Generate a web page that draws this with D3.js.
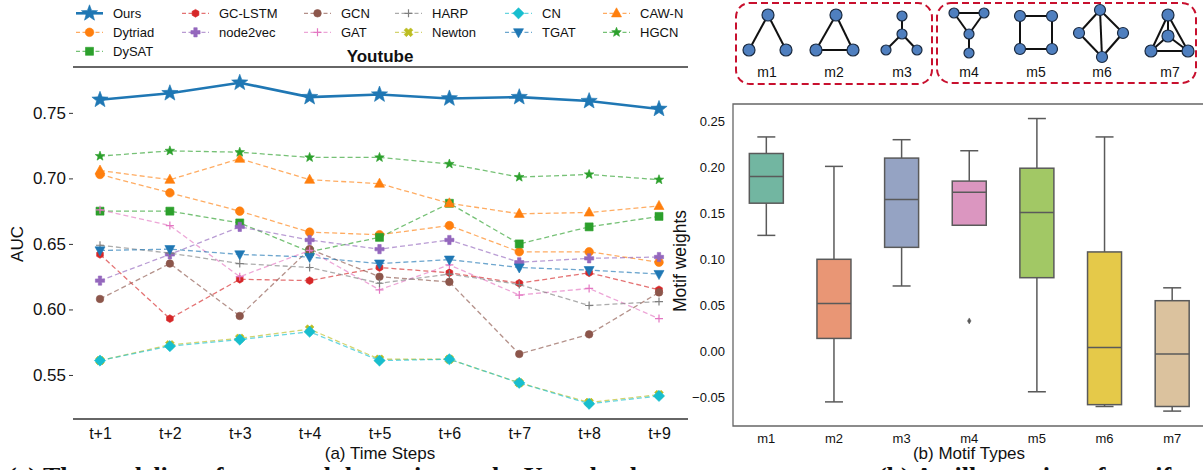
<!DOCTYPE html>
<html>
<head>
<meta charset="utf-8">
<script src="https://cdn.jsdelivr.net/npm/d3@7"></script>
<style>
  body { margin: 0; background: #fff; }
  text { font-family: "Liberation Sans", Arial, sans-serif; fill: #111; }
</style>
</head>
<body>
<svg id="chart" width="1203" height="470"></svg>
<script>
// ---- data: left panel (AUC per time step, Youtube) ----
const steps = ["t+1", "t+2", "t+3", "t+4", "t+5", "t+6", "t+7", "t+8", "t+9"];
const ours    = [0.760, 0.765, 0.773, 0.762, 0.764, 0.761, 0.762, 0.759, 0.753];
const dytriad = [0.703, 0.689, 0.675, 0.659, 0.657, 0.664, 0.644, 0.644, 0.636];
const dysat   = [0.675, 0.675, 0.666, 0.644, 0.655, 0.681, 0.650, 0.663, 0.671];
const gclstm  = [0.642, 0.593, 0.623, 0.622, 0.632, 0.628, 0.620, 0.628, 0.615];
const node2vec= [0.622, 0.642, 0.663, 0.653, 0.646, 0.653, 0.636, 0.639, 0.640];
const gcn     = [0.608, 0.635, 0.595, 0.646, 0.625, 0.621, 0.566, 0.581, 0.613];
const gat     = [0.676, 0.664, 0.625, 0.645, 0.615, 0.634, 0.611, 0.616, 0.593];
const harp    = [0.649, 0.643, 0.635, 0.632, 0.620, 0.627, 0.619, 0.603, 0.606];
const newton  = [0.561, 0.573, 0.578, 0.585, 0.562, 0.562, 0.544, 0.529, 0.535];
const cn      = [0.561, 0.572, 0.577, 0.583, 0.561, 0.562, 0.544, 0.528, 0.534];
const tgat    = [0.645, 0.646, 0.642, 0.640, 0.635, 0.638, 0.632, 0.630, 0.627];
const cawn    = [0.706, 0.699, 0.715, 0.699, 0.696, 0.681, 0.673, 0.674, 0.679];
const hgcn    = [0.717, 0.721, 0.720, 0.716, 0.716, 0.711, 0.701, 0.703, 0.699];
const aucTicks = [0.55, 0.60, 0.65, 0.70, 0.75];

// ---- data: right panel (motif weight distributions) ----
const motifs     = ["m1", "m2", "m3", "m4", "m5", "m6", "m7"];
const whiskerHi  = [0.233, 0.201, 0.230, 0.218, 0.253, 0.233, 0.069];
const q3         = [0.215, 0.100, 0.210, 0.185, 0.199, 0.108, 0.055];
const medians    = [0.190, 0.052, 0.165, 0.173, 0.151, 0.004, -0.003];
const q1         = [0.161, 0.014, 0.113, 0.137, 0.080, -0.058, -0.060];
const whiskerLo  = [0.126, -0.055, 0.071, 0.137, -0.044, -0.060, -0.065];
const outliers   = [[], [], [], [0.033], [], [], []];
const weightTicks = [-0.05, 0.00, 0.05, 0.10, 0.15, 0.20, 0.25];

// ---- series styling ----
const series = [
  {name: "Ours",     values: ours,     color: "#1f77b4", marker: "star",  solid: true},
  {name: "Dytriad",  values: dytriad,  color: "#ff7f0e", marker: "circle"},
  {name: "DySAT",    values: dysat,    color: "#2ca02c", marker: "square"},
  {name: "GC-LSTM",  values: gclstm,   color: "#d62728", marker: "hex"},
  {name: "node2vec", values: node2vec, color: "#9467bd", marker: "plusFilled"},
  {name: "GCN",      values: gcn,      color: "#8c564b", marker: "smallCircle"},
  {name: "GAT",      values: gat,      color: "#e377c2", marker: "plus"},
  {name: "HARP",     values: harp,     color: "#7f7f7f", marker: "plus"},
  {name: "Newton",   values: newton,   color: "#bcbd22", marker: "xFilled"},
  {name: "CN",       values: cn,       color: "#17becf", marker: "diamond"},
  {name: "TGAT",     values: tgat,     color: "#1f77b4", marker: "triDown"},
  {name: "CAW-N",    values: cawn,     color: "#ff7f0e", marker: "triUp"},
  {name: "HGCN",     values: hgcn,     color: "#2ca02c", marker: "smallStar"}
];

const boxPalette = ["#66c2a5", "#fc8d62", "#8da0cb", "#e78ac3", "#a6d854", "#ffd92f", "#e5c494"]
  .map(c => { const h = d3.hsl(c); h.s *= 0.75; return h.formatHex(); });

// ---- marker paths ----
function poly(pts) { return "M" + pts.map(p => p.join(",")).join("L") + "Z"; }
function starPts(r, k) {
  const pts = [];
  for (let i = 0; i < 10; i++) {
    const a = -Math.PI / 2 + i * Math.PI / 5, rr = i % 2 ? r * k : r;
    pts.push([rr * Math.cos(a), rr * Math.sin(a)]);
  }
  return pts;
}
function crossPts(r, w) {
  return [[-w,-r],[w,-r],[w,-w],[r,-w],[r,w],[w,w],[w,r],[-w,r],[-w,w],[-r,w],[-r,-w],[-w,-w]];
}
const markerPath = {
  star: () => poly(starPts(8.5, 0.42)),
  smallStar: () => poly(starPts(5, 0.42)),
  circle: () => d3.arc()({innerRadius: 0, outerRadius: 4.3, startAngle: 0, endAngle: 2 * Math.PI}),
  smallCircle: () => d3.arc()({innerRadius: 0, outerRadius: 3.8, startAngle: 0, endAngle: 2 * Math.PI}),
  square: () => poly([[-4,-4],[4,-4],[4,4],[-4,4]]),
  hex: () => poly(d3.range(6).map(i => { const a = -Math.PI / 2 + i * Math.PI / 3; return [3.9 * Math.cos(a), 3.9 * Math.sin(a)]; })),
  plusFilled: () => poly(crossPts(4.6, 1.7)),
  xFilled: () => poly(crossPts(4.6, 1.6).map(([x, y]) => [(x - y) * 0.7071, (x + y) * 0.7071])),
  plus: () => "M-4,0H4M0,-4V4",
  diamond: () => poly([[0,-5.6],[5.6,0],[0,5.6],[-5.6,0]]),
  triUp: () => poly([[0,-5.5],[5,3.6],[-5,3.6]]),
  triDown: () => poly([[0,5.5],[5,-3.6],[-5,-3.6]])
};
function drawMarker(g, s, x, y) {
  const p = g.append("path").attr("d", markerPath[s.marker]()).attr("transform", `translate(${x},${y})`);
  if (s.marker === "plus") p.attr("fill", "none").attr("stroke", s.color).attr("stroke-width", 1.2);
  else p.attr("fill", s.color).attr("stroke", s.color).attr("stroke-width", 0.6);
}

const svg = d3.select("#chart");

// ================= left panel =================
const x = d3.scalePoint().domain(steps).range([100, 659]);
const y = d3.scaleLinear().domain([0.5164, 0.785]).range([419, 67]);

const left = svg.append("g");
left.append("line").attr("x1", 73).attr("x2", 688).attr("y1", 67).attr("y2", 67).attr("stroke", "#333").attr("stroke-width", 1.3);
left.append("line").attr("x1", 73).attr("x2", 688).attr("y1", 419).attr("y2", 419).attr("stroke", "#333").attr("stroke-width", 1.3);

const yAx = left.append("g").attr("transform", "translate(73,0)")
  .call(d3.axisLeft(y).tickValues(aucTicks).tickFormat(d3.format(".2f")).tickSize(4).tickPadding(3));
yAx.select(".domain").remove();
yAx.selectAll("line").attr("stroke", "#333");
yAx.selectAll("text").attr("font-size", 17).attr("font-family", "Liberation Sans, Arial, sans-serif").attr("fill", "#111");

const xAx = left.append("g").attr("transform", "translate(0,419)")
  .call(d3.axisBottom(x).tickSize(0).tickPadding(9));
xAx.select(".domain").remove();
xAx.selectAll("text").attr("font-size", 16).attr("font-family", "Liberation Sans, Arial, sans-serif").attr("fill", "#111");

left.append("text").attr("x", 380).attr("y", 459).attr("text-anchor", "middle").attr("font-size", 17).text("(a) Time Steps");
left.append("text").attr("transform", "translate(23,244) rotate(-90)").attr("text-anchor", "middle").attr("font-size", 17).text("AUC");
left.append("text").attr("x", 380).attr("y", 62).attr("text-anchor", "middle").attr("font-size", 17).attr("font-weight", "bold").text("Youtube");

const lineGen = d3.line().x((d, i) => x(steps[i])).y(d => y(d));
series.forEach(s => {
  const g = left.append("g");
  g.append("path").attr("d", lineGen(s.values)).attr("fill", "none").attr("stroke", s.color)
    .attr("stroke-width", s.solid ? 2.6 : 1.3)
    .attr("stroke-dasharray", s.solid ? null : "5,3")
    .attr("opacity", s.solid ? 1 : 0.65);
  s.values.forEach((v, i) => drawMarker(g, s, x(steps[i]), y(v)));
});

// legend
const legCols = [76, 182, 304, 395, 505, 603];
const legRows = [13.3, 32.3, 51.3];
let idx = 0;
const perCol = [3, 2, 2, 2, 2, 2];
perCol.forEach((n, c) => {
  for (let r = 0; r < n; r++, idx++) {
    const s = series[idx], x0 = legCols[c], y0 = legRows[r];
    const g = svg.append("g");
    g.append("line").attr("x1", x0).attr("x2", x0 + 27).attr("y1", y0).attr("y2", y0)
      .attr("stroke", s.color).attr("stroke-width", s.solid ? 2.6 : 1.3)
      .attr("stroke-dasharray", s.solid ? null : "4,2.5").attr("opacity", s.solid ? 1 : 0.65);
    drawMarker(g, s, x0 + 13.5, y0);
    g.append("text").attr("x", x0 + 37).attr("y", y0 + 4.6).attr("font-size", 13).text(s.name);
  }
});

// ================= right panel =================
const bx = d3.scaleBand().domain(motifs).range([732.5, 1206]);
const by = d3.scaleLinear().domain([-0.0812, 0.2688]).range([426, 104]);
const right = svg.append("g");
right.append("path").attr("d", `M1206,104H733V426H1206`).attr("fill", "none").attr("stroke", "#666").attr("stroke-width", 1.3);

const byAx = right.append("g").attr("transform", "translate(733,0)")
  .call(d3.axisLeft(by).tickValues(weightTicks).tickFormat(d3.format(".2f")).tickSize(0).tickPadding(8));
byAx.select(".domain").remove();
byAx.selectAll("text").attr("font-size", 13).attr("font-family", "Liberation Sans, Arial, sans-serif").attr("fill", "#111");

const bxAx = right.append("g").attr("transform", "translate(0,426)")
  .call(d3.axisBottom(bx).tickSize(0).tickPadding(8));
bxAx.select(".domain").remove();
bxAx.selectAll("text").attr("font-size", 13).attr("font-family", "Liberation Sans, Arial, sans-serif").attr("fill", "#111");

right.append("text").attr("x", 969).attr("y", 459).attr("text-anchor", "middle").attr("font-size", 17).text("(b) Motif Types");
right.append("text").attr("transform", "translate(686,261) rotate(-90)").attr("text-anchor", "middle").attr("font-size", 17.5).text("Motif weights");

const boxW = 34, capW = 18, boxStroke = "#5a5a5a";
motifs.forEach((m, i) => {
  const cx = bx(m) + bx.bandwidth() / 2;
  const g = right.append("g").attr("stroke", boxStroke).attr("stroke-width", 1.5);
  g.append("line").attr("x1", cx).attr("x2", cx).attr("y1", by(whiskerHi[i])).attr("y2", by(q3[i]));
  g.append("line").attr("x1", cx).attr("x2", cx).attr("y1", by(q1[i])).attr("y2", by(whiskerLo[i]));
  g.append("line").attr("x1", cx - capW / 2).attr("x2", cx + capW / 2).attr("y1", by(whiskerHi[i])).attr("y2", by(whiskerHi[i]));
  g.append("line").attr("x1", cx - capW / 2).attr("x2", cx + capW / 2).attr("y1", by(whiskerLo[i])).attr("y2", by(whiskerLo[i]));
  g.append("rect").attr("x", cx - boxW / 2).attr("width", boxW).attr("y", by(q3[i])).attr("height", by(q1[i]) - by(q3[i]))
    .attr("fill", boxPalette[i]);
  g.append("line").attr("x1", cx - boxW / 2).attr("x2", cx + boxW / 2).attr("y1", by(medians[i])).attr("y2", by(medians[i]));
  outliers[i].forEach(o => {
    g.append("path").attr("d", poly([[0,-3],[1.8,0],[0,3],[-1.8,0]])).attr("transform", `translate(${cx},${by(o)})`)
      .attr("fill", boxStroke).attr("stroke-width", 0.5);
  });
});

// ================= motif icons =================
const motifGraphs = [
  {nodes: [[768,15],[749,50],[786,50]], edges: [[0,1],[0,2]], r: 6},
  {nodes: [[836,15],[816,50],[853,50]], edges: [[0,1],[0,2],[1,2]], r: 6},
  {nodes: [[902,34],[902,16],[886,50],[917,50]], edges: [[0,1],[0,2],[0,3]], r: 5},
  {nodes: [[954,13],[984,13],[969,34],[969,53]], edges: [[0,1],[0,2],[1,2],[2,3]], r: 5},
  {nodes: [[1020,16],[1052,16],[1052,49],[1020,49]], edges: [[0,1],[1,2],[2,3],[3,0]], r: 5.5},
  {nodes: [[1100,10],[1079,33],[1123,33],[1102,57]], edges: [[0,1],[0,2],[1,3],[2,3],[0,3]], r: 5.5},
  {nodes: [[1168,15],[1168,36],[1151,51],[1188,51]], edges: [[0,2],[0,3],[2,3],[1,0],[1,2],[1,3]], r: 6}
];
const labelX = [767, 834, 902, 969, 1036, 1102, 1170];
const icons = svg.append("g");
icons.append("rect").attr("x", 736).attr("y", 3).attr("width", 196).attr("height", 81).attr("rx", 14)
  .attr("fill", "none").attr("stroke", "#c8102e").attr("stroke-width", 2).attr("stroke-dasharray", "7,4");
icons.append("rect").attr("x", 937).attr("y", 3).attr("width", 259).attr("height", 80).attr("rx", 14)
  .attr("fill", "none").attr("stroke", "#c8102e").attr("stroke-width", 2).attr("stroke-dasharray", "7,4");
motifGraphs.forEach((gr, i) => {
  const g = icons.append("g");
  gr.edges.forEach(([a, b]) => g.append("line")
    .attr("x1", gr.nodes[a][0]).attr("y1", gr.nodes[a][1]).attr("x2", gr.nodes[b][0]).attr("y2", gr.nodes[b][1])
    .attr("stroke", "#111").attr("stroke-width", 2));
  gr.nodes.forEach(([nx, ny]) => g.append("circle").attr("cx", nx).attr("cy", ny).attr("r", gr.r)
    .attr("fill", "#4f7fbf").attr("stroke", "#1a2a40").attr("stroke-width", 1.2));
  g.append("text").attr("x", labelX[i]).attr("y", 77).attr("text-anchor", "middle").attr("font-size", 14).text(motifs[i]);
});

// ================= cut-off caption =================
svg.append("text").attr("x", 8).attr("y", 485).attr("font-size", 26).attr("font-weight", "bold")
  .style("font-family", "Liberation Serif, Times New Roman, serif")
  .text("(c) The modeling of temporal dynamics on the Youtube dataset.");
svg.append("text").attr("x", 878).attr("y", 485).attr("font-size", 26).attr("font-weight", "bold")
  .style("font-family", "Liberation Serif, Times New Roman, serif")
  .text("(b) An illustration of motifs");
</script>
</body>
</html>
